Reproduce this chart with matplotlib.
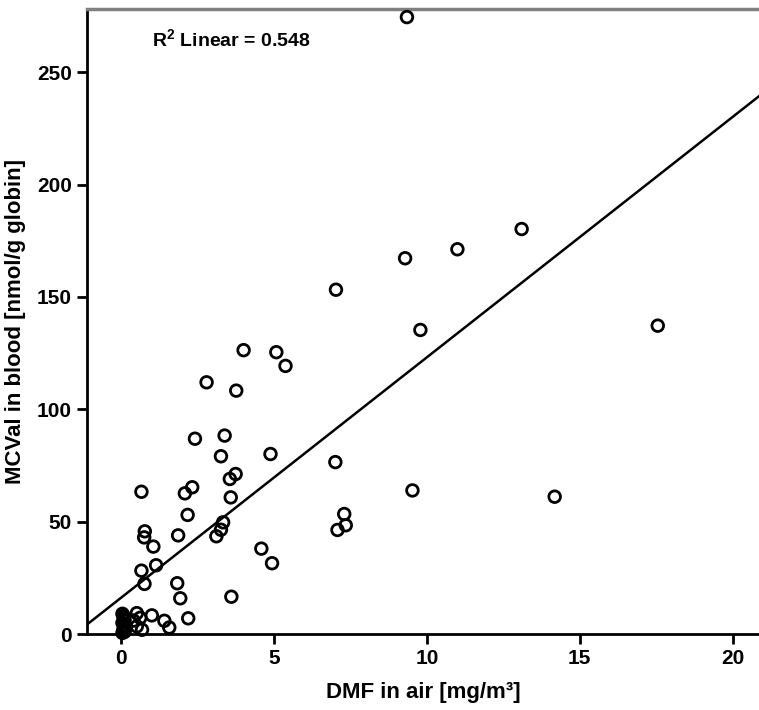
import numpy as np
import matplotlib
matplotlib.use('Agg')
import matplotlib.pyplot as plt

# DMF in air [mg/m3] vs MCVal in blood [nmol/g globin]
dmf_air = [9.35, 13.1, 11.0, 9.29, 7.03, 17.55, 9.79, 4.01, 5.08, 5.38,
           2.80, 3.77, 3.39, 2.42, 4.89, 3.27, 7.01, 3.75, 3.56, 2.33,
           0.67, 9.53, 2.09, 14.18, 3.59, 7.30, 2.18, 3.34, 7.35, 3.27,
           7.08, 0.78, 1.87, 3.12, 0.76, 1.06, 4.59, 4.94, 1.15, 0.67,
           1.84, 0.77, 3.61, 1.94,
           2.20, 1.42, 1.58, 1.01, 0.52, 0.63, 0.69, 0.52, 0.41,
           0.05, 0.08, 0.10, 0.12, 0.05, 0.10, 0.15, 0.08, 0.12, 0.05, 0.10, 0.14]
mcval_blood = [274.5, 180.2, 171.2, 167.2, 153.2, 137.2, 135.3, 126.3, 125.4, 119.3,
               112.0, 108.3, 88.3, 86.9, 80.1, 79.1, 76.5, 71.2, 69.0, 65.3,
               63.3, 63.9, 62.6, 61.1, 60.8, 53.4, 53.0, 49.7, 48.4, 46.4,
               46.3, 45.7, 43.9, 43.5, 43.0, 38.9, 38.0, 31.5, 30.6, 28.2,
               22.6, 22.3, 16.6, 15.9,
               7.0, 5.9, 2.9, 8.3, 9.3, 7.2, 1.9, 3.4, 6.0,
               9.0, 8.0, 7.0, 6.0, 5.0, 4.0, 3.0, 2.0, 1.0, 0.5, 1.5, 2.5]

# linear fit line
fit_intercept = 16.1
fit_slope = 10.7
r2_text = 'R$^2$ Linear = 0.548'

xticks = [0, 5, 10, 15, 20]
yticks = [0, 50, 100, 150, 200, 250]

plt.rcParams['font.family'] = ['Liberation Sans Narrow', 'Liberation Sans', 'DejaVu Sans']
plt.rcParams['font.weight'] = 'bold'
plt.rcParams['mathtext.fontset'] = 'custom'
plt.rcParams['mathtext.rm'] = 'Liberation Sans:bold'
plt.rcParams['mathtext.default'] = 'rm'

fig = plt.figure(figsize=(7.59, 7.10), dpi=100)
ax = fig.add_axes([0.1146, 0.107, 0.8854, 0.880])

xlim = (-1.11, 20.86)
ylim = (0, 278)

ax.scatter(dmf_air, mcval_blood, s=70, facecolors='none', edgecolors='black',
           linewidths=2, zorder=3, clip_on=False)

xs = np.array(xlim)
ax.plot(xs, fit_intercept + fit_slope * xs, color='black', lw=1.8, zorder=2)

ax.set_xlim(xlim)
ax.set_ylim(ylim)
ax.set_xticks(xticks)
ax.set_yticks(yticks)

ax.spines['right'].set_visible(False)
ax.spines['top'].set_color('#808080')
ax.spines['top'].set_linewidth(2.5)
ax.spines['left'].set_linewidth(2)
ax.spines['bottom'].set_linewidth(2)
ax.tick_params(direction='out', length=7, width=2, labelsize=15, pad=4)
for lab in ax.get_xticklabels() + ax.get_yticklabels():
    lab.set_fontweight('bold')

ax.set_xlabel('DMF in air [mg/m³]', fontsize=16, fontweight='bold', labelpad=10)
ax.set_ylabel('MCVal in blood [nmol/g globin]', fontsize=16, fontweight='bold', labelpad=8)

ax.text(0.097, 0.952, r2_text, transform=ax.transAxes, fontsize=14,
        fontweight='bold', ha='left', va='center')

plt.savefig('out.png', dpi=100)
